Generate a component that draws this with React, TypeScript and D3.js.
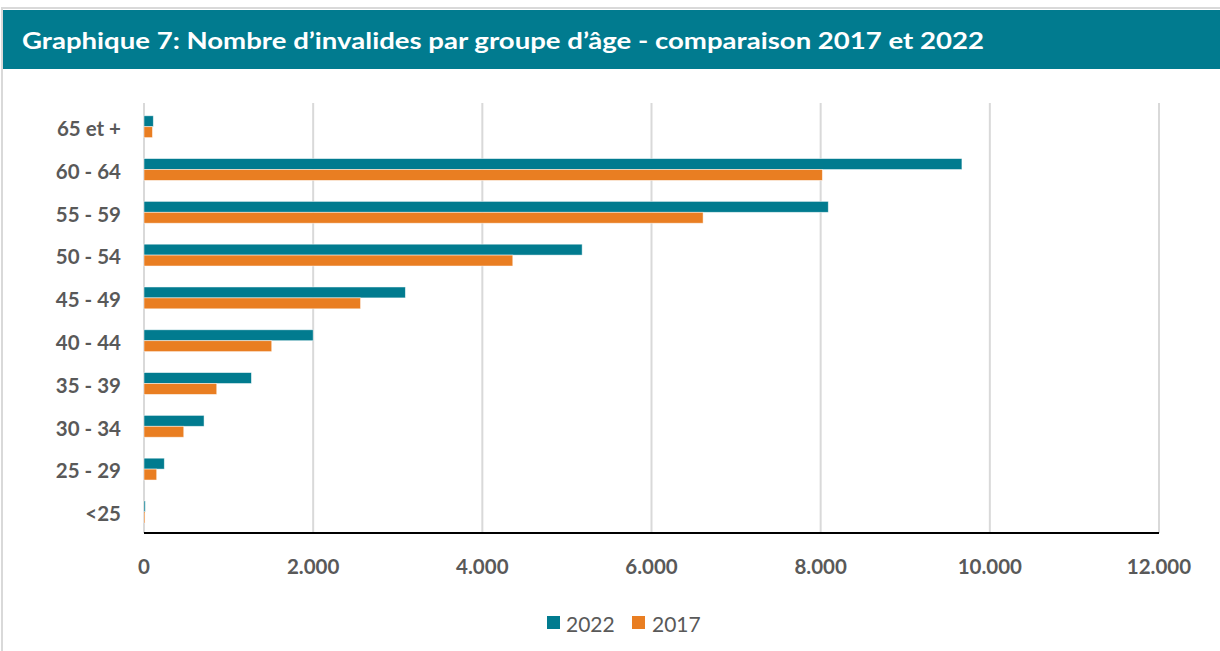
import React from "react";
import * as d3 from "d3";

const categories = ["65 et +", "60 - 64", "55 - 59", "50 - 54", "45 - 49", "40 - 44", "35 - 39", "30 - 34", "25 - 29", "<25"];
const values2022 = [110, 9670, 8090, 5180, 3090, 2000, 1270, 710, 240, 15];
const values2017 = [100, 8020, 6610, 4360, 2560, 1510, 860, 470, 150, 12];
const seriesNames = ["2022", "2017"];
const xTicks = [0, 2000, 4000, 6000, 8000, 10000, 12000];
const title = "Graphique 7: Nombre d\u2019invalides par groupe d\u2019\u00e2ge - comparaison 2017 et 2022";

const TEAL = "#017b8f";
const ORANGE = "#e97e22";
const GRID = "#d9d9d9";
const TEXT = "#595959";

export default function App() {
  const W = 1220, H = 651;
  const x = d3.scaleLinear().domain([0, 12000]).range([144, 1159]);
  const y = d3.scaleBand().domain(categories).range([105.3, 533.3]).paddingInner(0.49).paddingOuter(0.245);
  const sub = d3.scaleBand().domain(seriesNames).range([0, y.bandwidth()]);
  const fmt = (v: number) => d3.format(",")(v).replace(/,/g, ".");
  const series = [values2022, values2017];
  const colors = [TEAL, ORANGE];
  const font = "Lato, 'Open Sans', sans-serif";
  return (
    <svg width={W} height={H} style={{ position: "absolute", left: 0, top: 0, background: "#fff" }} fontFamily={font}>
      <rect x={2} y={8} width={W + 10} height={H} fill="#fff" stroke="#d9d9d9" strokeWidth={2} />
      <rect x={3} y={10} width={W} height={59} fill={TEAL} />
      <text x={22} y={49} fill="#fff" fontSize={22} fontWeight={700} textLength={962} lengthAdjust="spacingAndGlyphs">{title}</text>
      {xTicks.map((t) => (
        <line key={"g" + t} x1={x(t)} x2={x(t)} y1={103} y2={533} stroke={GRID} strokeWidth={2} />
      ))}
      {categories.map((c, i) => (
        <g key={c}>
          {series.map((s, j) => (
            <rect key={j} x={x(0)} y={(y(c) as number) + (sub(seriesNames[j]) as number)} width={x(s[i]) - x(0)} height={sub.bandwidth()} fill={colors[j]} stroke="#fff" strokeOpacity={0.6} strokeWidth={0.8} />
          ))}
          <text x={121} y={(y(c) as number) + y.bandwidth() / 2 + 1.3} textAnchor="end" dominantBaseline="central" fill={TEXT} fontSize={20.5} fontWeight={700}>{c}</text>
        </g>
      ))}
      <line x1={x(0)} x2={x(12000)} y1={533} y2={533} stroke="#000" strokeWidth={2} />
      {xTicks.map((t) => (
        <text key={"t" + t} x={x(t)} y={566} textAnchor="middle" dominantBaseline="central" fill={TEXT} fontSize={20.5} fontWeight={700}>{fmt(t)}</text>
      ))}
      <g>
        <rect x={547} y={616} width={13} height={13} fill={TEAL} />
        <text x={566} y={623} dominantBaseline="central" fill={TEXT} fontSize={21}>{seriesNames[0]}</text>
        <rect x={632} y={616} width={13} height={13} fill={ORANGE} />
        <text x={652} y={623} dominantBaseline="central" fill={TEXT} fontSize={21}>{seriesNames[1]}</text>
      </g>
    </svg>
  );
}
